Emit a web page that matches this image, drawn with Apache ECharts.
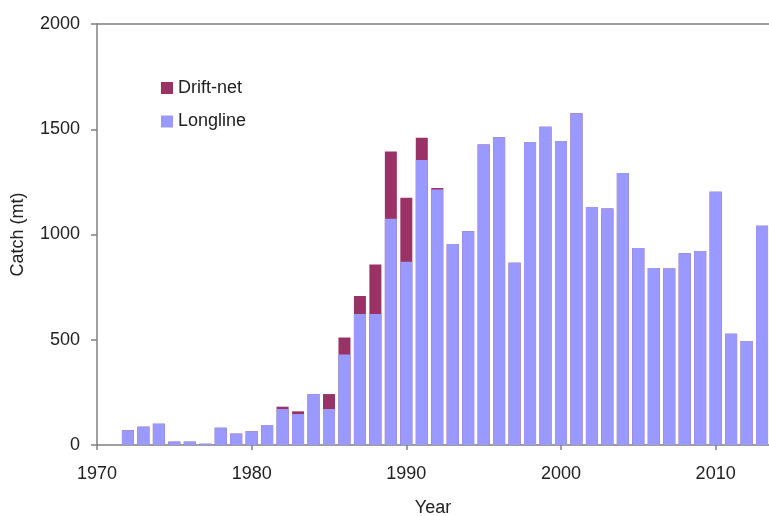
<!DOCTYPE html>
<html>
<head>
<meta charset="utf-8">
<script src="https://cdn.jsdelivr.net/npm/echarts@6/dist/echarts.min.js"></script>
<style>
html,body{margin:0;padding:0;background:#fff;}
#chart{width:769px;height:516px;}
</style>
</head>
<body>
<div id="chart"></div>
<script>
const years = [1972,1973,1974,1975,1976,1977,1978,1979,1980,1981,1982,1983,1984,1985,1986,1987,1988,1989,1990,1991,1992,1993,1994,1995,1996,1997,1998,1999,2000,2001,2002,2003,2004,2005,2006,2007,2008,2009,2010,2011,2012,2013];
const longline = [70,87,101,16,16,6,82,54,65,95,171,147,242,171,430,622,622,1075,870,1354,1214,955,1015,1427,1462,866,1440,1512,1444,1576,1131,1124,1292,936,841,838,911,922,1203,529,494,1042];
const driftnet = [0,0,0,0,0,0,0,0,0,0,11,13,0,71,81,86,235,319,305,106,7,0,0,0,0,0,0,0,0,0,0,0,0,0,0,0,0,0,0,0,0,0];
const xTicks = [1970,1980,1990,2000,2010];
const yTicks = [0,500,1000,1500,2000];

// drift-net is stacked on top of longline: its bar runs from 0 to the total, longline drawn over it
const totals = years.map((y, i) => longline[i] + driftnet[i]);

const font = '"Liberation Sans", Arial, sans-serif';
const axisColor = '#808080';
const txt = '#222';
const chart = echarts.init(document.getElementById('chart'));
chart.setOption({
  animation: false,
  backgroundColor: '#fff',
  grid: {left: 97, right: 0, top: 24, bottom: 71, outerBoundsMode: 'none', containLabel: false},
  legend: {
    orient: 'vertical', left: 156, top: 74,
    itemWidth: 12, itemHeight: 12, itemGap: 15.5,
    icon: 'rect',
    data: ['Drift-net', 'Longline'],
    textStyle: {fontFamily: font, fontSize: 18, color: txt}
  },
  xAxis: [{
    type: 'value', min: 1970, max: 2013.45,
    name: 'Year', nameLocation: 'middle', nameGap: 54,
    nameTextStyle: {fontFamily: font, fontSize: 18, color: txt},
    axisLine: {show: true, onZero: false, lineStyle: {color: axisColor, width: 1.5}},
    axisTick: {show: true, length: 5, customValues: xTicks, lineStyle: {color: axisColor, width: 1.5}},
    axisLabel: {customValues: xTicks, margin: 20, fontFamily: font, fontSize: 18, color: txt,
      formatter: v => String(v)},
    splitLine: {show: false}
  }, {
    type: 'value', position: 'top', min: 1970, max: 2013.45,
    axisLine: {show: true, onZero: false, lineStyle: {color: axisColor, width: 1.5}},
    axisTick: {show: false}, axisLabel: {show: false}, splitLine: {show: false}
  }],
  yAxis: {
    type: 'value', min: 0, max: 2000, interval: 500,
    name: 'Catch (mt)', nameLocation: 'middle', nameGap: 70,
    nameTextStyle: {fontFamily: font, fontSize: 18, color: txt},
    axisLine: {show: true, lineStyle: {color: axisColor, width: 1.5}},
    axisTick: {show: true, length: 6, lineStyle: {color: axisColor, width: 1.5}},
    axisLabel: {margin: 17, fontFamily: font, fontSize: 18, color: txt,
      formatter: v => String(v)},
    splitLine: {show: false}
  },
  series: [{
    name: 'Drift-net', type: 'bar', barWidth: 12, barGap: '-100%',
    itemStyle: {color: '#993366'},
    data: years.map((y, i) => [y, totals[i]])
  }, {
    name: 'Longline', type: 'bar', barWidth: 12, barGap: '-100%',
    itemStyle: {color: '#9999FF'},
    data: years.map((y, i) => [y, longline[i]])
  }]
});
</script>
</body>
</html>
